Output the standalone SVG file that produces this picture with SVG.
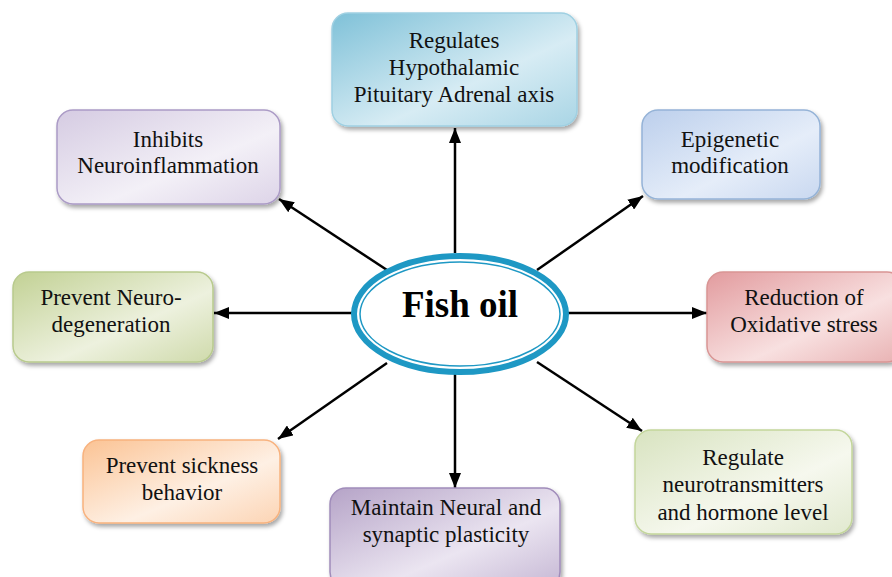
<svg xmlns="http://www.w3.org/2000/svg" width="892" height="577" viewBox="0 0 892 577" font-family="'Liberation Serif', 'Times New Roman', serif">
<defs>
<style>
text{font-family:'Liberation Serif','Times New Roman',serif}
.t{font-size:23px;fill:#111;text-anchor:middle}
.b{stroke-width:1.5}
.c{stroke:#000;stroke-width:2.5;fill:none;marker-end:url(#ah)}
</style>
<marker id="ah" markerUnits="userSpaceOnUse" markerWidth="16" markerHeight="12" refX="15" refY="6" orient="auto"><path d="M0,0 L15,6 L0,12 z" fill="#000"/></marker>
<filter id="sh" x="-10%" y="-10%" width="125%" height="130%"><feDropShadow dx="2" dy="3" stdDeviation="2" flood-color="#000" flood-opacity="0.35"/></filter>
<linearGradient id="g1" x1="0" y1="0" x2="1" y2="1"><stop offset="0" stop-color="#7fc1d8"/><stop offset="0.6" stop-color="#d7ecf4"/><stop offset="1" stop-color="#a9d5e5"/></linearGradient>
<linearGradient id="g2" x1="0" y1="0" x2="1" y2="1"><stop offset="0" stop-color="#d5cbe2"/><stop offset="0.6" stop-color="#f3f0f7"/><stop offset="1" stop-color="#ddd4e8"/></linearGradient>
<linearGradient id="g3" x1="0" y1="0" x2="1" y2="1"><stop offset="0" stop-color="#bccfec"/><stop offset="0.6" stop-color="#e5edf9"/><stop offset="1" stop-color="#c9d8f0"/></linearGradient>
<linearGradient id="g4" x1="0" y1="0" x2="1" y2="1"><stop offset="0" stop-color="#c2d194"/><stop offset="0.6" stop-color="#edf1de"/><stop offset="1" stop-color="#cfdaab"/></linearGradient>
<linearGradient id="g5" x1="0" y1="0" x2="1" y2="1"><stop offset="0" stop-color="#e29b9e"/><stop offset="0.6" stop-color="#f8e0e0"/><stop offset="1" stop-color="#e8b1b2"/></linearGradient>
<linearGradient id="g6" x1="0" y1="0" x2="1" y2="1"><stop offset="0" stop-color="#fbc394"/><stop offset="0.6" stop-color="#fef0e4"/><stop offset="1" stop-color="#fcd4b4"/></linearGradient>
<linearGradient id="g7" x1="0" y1="0" x2="1" y2="1"><stop offset="0" stop-color="#b5a3c7"/><stop offset="0.6" stop-color="#ebe5f1"/><stop offset="1" stop-color="#c5b7d4"/></linearGradient>
<linearGradient id="g8" x1="0" y1="0" x2="1" y2="1"><stop offset="0" stop-color="#d8e3c0"/><stop offset="0.6" stop-color="#f6f8ee"/><stop offset="1" stop-color="#e1e9cf"/></linearGradient>
</defs>
<rect width="892" height="577" fill="#fff"/>
<g id="connectors">
<line class="c" x1="455" y1="253" x2="455" y2="128"/>
<line class="c" x1="387" y1="270" x2="279" y2="199"/>
<line class="c" x1="537" y1="270" x2="643" y2="196"/>
<line class="c" x1="353" y1="313" x2="214" y2="313"/>
<line class="c" x1="568" y1="313" x2="707" y2="313"/>
<line class="c" x1="387" y1="363" x2="278" y2="439"/>
<line class="c" x1="455" y1="374" x2="455" y2="488"/>
<line class="c" x1="537" y1="362" x2="642" y2="431"/>
</g>
<g id="fishoil">
<ellipse cx="460" cy="314" rx="106" ry="58" fill="#fff" stroke="#1e98c4" stroke-width="6"/>
<ellipse cx="460" cy="314" rx="100" ry="52" fill="#fff" stroke="#1e98c4" stroke-width="1.5"/>
<text x="460" y="317" font-family="'Liberation Serif', 'Times New Roman', serif" font-size="37" font-weight="bold" fill="#000" text-anchor="middle">Fish oil</text>
</g>
<g id="hpa">
<rect x="332" y="13" width="245" height="113" rx="16" fill="url(#g1)" stroke="#9fd0e2" class="b" filter="url(#sh)"/>
<text class="t" x="454" y="48">Regulates</text>
<text class="t" x="454" y="75">Hypothalamic</text>
<text class="t" x="454" y="102">Pituitary Adrenal axis</text>
</g>
<g id="neuroinflammation">
<rect x="57" y="110" width="223" height="94" rx="16" fill="url(#g2)" stroke="#ab9bc6" class="b" filter="url(#sh)"/>
<text class="t" x="168" y="147">Inhibits</text>
<text class="t" x="168" y="173">Neuroinflammation</text>
</g>
<g id="epigenetic">
<rect x="642" y="110" width="178" height="89" rx="16" fill="url(#g3)" stroke="#95b3d7" class="b" filter="url(#sh)"/>
<text class="t" x="730" y="147">Epigenetic</text>
<text class="t" x="730" y="173">modification</text>
</g>
<g id="neurodegeneration">
<rect x="13" y="272" width="200" height="90" rx="16" fill="url(#g4)" stroke="#b8ca8d" class="b" filter="url(#sh)"/>
<text class="t" x="111" y="305">Prevent Neuro-</text>
<text class="t" x="111" y="332">degeneration</text>
</g>
<g id="oxidative">
<rect x="707" y="272" width="196" height="90" rx="16" fill="url(#g5)" stroke="#d99594" class="b" filter="url(#sh)"/>
<text class="t" x="804" y="305">Reduction of</text>
<text class="t" x="804" y="332">Oxidative stress</text>
</g>
<g id="sickness">
<rect x="83" y="440" width="197" height="83" rx="16" fill="url(#g6)" stroke="#f8b27e" class="b" filter="url(#sh)"/>
<text class="t" x="182" y="473">Prevent sickness</text>
<text class="t" x="182" y="500">behavior</text>
</g>
<g id="plasticity">
<rect x="330" y="488" width="230" height="100" rx="16" fill="url(#g7)" stroke="#a08cba" class="b" filter="url(#sh)"/>
<text class="t" x="446" y="515">Maintain Neural and</text>
<text class="t" x="446" y="542">synaptic plasticity</text>
</g>
<g id="neurotransmitters">
<rect x="635" y="430" width="217" height="104" rx="16" fill="url(#g8)" stroke="#c3d69b" class="b" filter="url(#sh)"/>
<text class="t" x="743" y="465">Regulate</text>
<text class="t" x="743" y="492">neurotransmitters</text>
<text class="t" x="743" y="520">and hormone level</text>
</g>
</svg>
